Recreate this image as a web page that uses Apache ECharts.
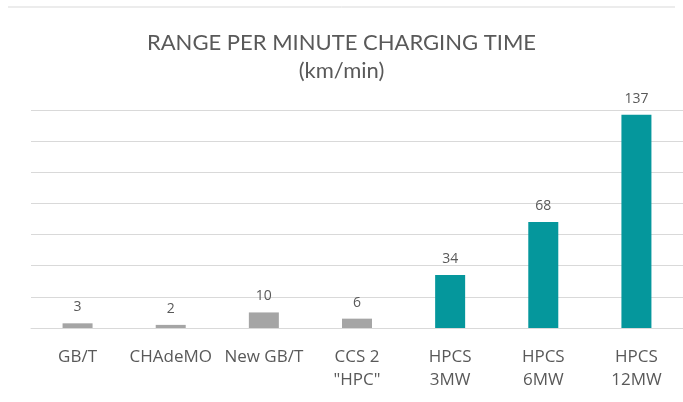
<!DOCTYPE html>
<html>
<head>
<meta charset="utf-8">
<script src="https://cdn.jsdelivr.net/npm/echarts@6/dist/echarts.min.js"></script>
<style>
  html, body { margin: 0; padding: 0; background: #fff; }
  #chart { width: 683px; height: 402px; }
</style>
</head>
<body>
<div id="chart"></div>
<script>
const categories = ['GB/T', 'CHAdeMO', 'New GB/T', 'CCS 2\n"HPC"', 'HPCS\n3MW', 'HPCS\n6MW', 'HPCS\n12MW']
const values = [3, 2, 10, 6, 34, 68, 137]
const barColors = ['#a5a5a5', '#a5a5a5', '#a5a5a5', '#a5a5a5', '#05979c', '#05979c', '#05979c']

let chart = echarts.init(document.getElementById('chart'))

chart.setOption({
  animation: false,
  textStyle: { fontFamily: 'Open Sans' },
  title: {
    text: 'RANGE PER MINUTE CHARGING TIME\n(km/min)',
    left: 'center',
    top: 24,
    textStyle: {
      fontFamily: 'Lato',
      fontSize: 22,
      fontWeight: 'normal',
      color: '#595959',
      lineHeight: 28
    }
  },
  graphic: [{
    type: 'line',
    shape: { x1: 8, y1: 7, x2: 675, y2: 7 },
    style: { stroke: '#d9d9d9', lineWidth: 1 }
  }],
  grid: { left: 31, right: -6, top: 110, bottom: 74 },
  xAxis: {
    type: 'category',
    data: categories,
    axisLine: { show: true, lineStyle: { color: '#d9d9d9' } },
    axisTick: { show: false },
    axisLabel: {
      color: '#595959',
      fontSize: 17,
      lineHeight: 23,
      margin: 18,
      interval: 0
    }
  },
  yAxis: {
    type: 'value',
    min: 0,
    max: 140,
    interval: 20,
    axisLabel: { show: false },
    axisLine: { show: false },
    axisTick: { show: false },
    splitLine: { lineStyle: { color: '#d9d9d9' } }
  },
  series: [{
    type: 'bar',
    barWidth: 30,
    data: values.map(function (v, i) {
      return { value: v, itemStyle: { color: barColors[i] } }
    }),
    label: {
      show: true,
      position: 'top',
      distance: 9,
      color: '#595959',
      fontSize: 14
    }
  }]
})
</script>
</body>
</html>
